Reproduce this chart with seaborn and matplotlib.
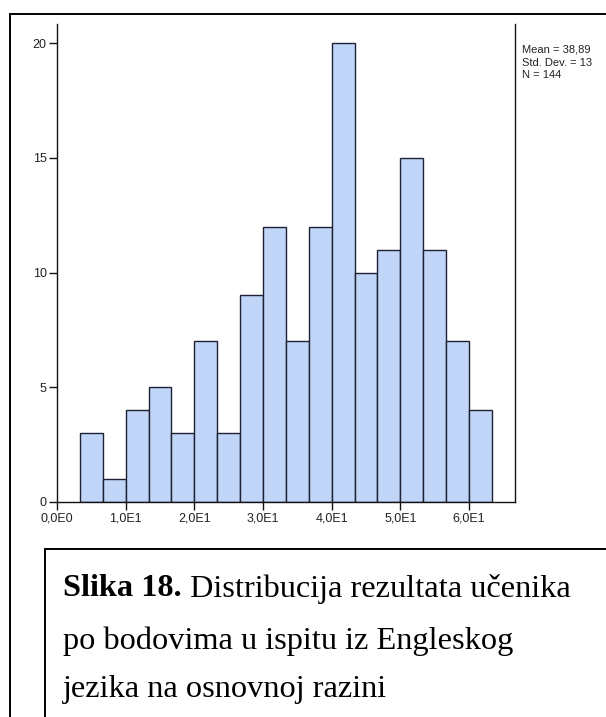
import numpy as np
import pandas as pd
import matplotlib
matplotlib.use("Agg")
import matplotlib.pyplot as plt
import seaborn as sns

# ---- data ----
bin_width = 10 / 3
bin_edges = [bin_width * k for k in range(1, 20)]
counts = [3, 1, 4, 5, 3, 7, 3, 9, 12, 7, 12, 20, 10, 11, 15, 11, 7, 4]
x_ticks = [0, 10, 20, 30, 40, 50, 60]
x_tick_labels = ["0,0E0", "1,0E1", "2,0E1", "3,0E1", "4,0E1", "5,0E1", "6,0E1"]
y_ticks = [0, 5, 10, 15, 20]
stats_lines = ["Mean = 38,89", "Std. Dev. = 13", "N = 144"]
caption_bold = "Slika 18."
caption_lines = [" Distribucija rezultata učenika",
                 "po bodovima u ispitu iz Engleskog",
                 "jezika na osnovnoj razini"]

centers = [(bin_edges[i] + bin_edges[i + 1]) / 2 for i in range(len(counts))]
df = pd.DataFrame({"score": centers, "count": counts})

sns.set_theme(style="white")
plt.rcParams["font.family"] = ["Liberation Sans", "DejaVu Sans"]

W, H = 606, 717
fig = plt.figure(figsize=(W / 100, H / 100), dpi=100)
fig.patch.set_facecolor("white")

# axes box in pixel coords
ax_l, ax_r, ax_t, ax_b = 57, 515, 24, 502
ax = fig.add_axes([ax_l / W, 1 - ax_b / H, (ax_r - ax_l) / W, (ax_b - ax_t) / H])

sns.histplot(data=df, x="score", weights="count", bins=bin_edges, ax=ax,
             color="#C0D5F7", edgecolor="#1c2233", linewidth=1.0, alpha=1.0)

ax.set_xlim(0, 66.7)
ax.set_ylim(0, 20.83)
ax.set_xticks(x_ticks)
ax.set_xticklabels(x_tick_labels, fontsize=9, color="#222222")
ax.set_yticks(y_ticks)
ax.set_yticklabels([str(v) for v in y_ticks], fontsize=9, color="#222222")
ax.set_xlabel("")
ax.set_ylabel("")
ax.tick_params(axis="both", direction="out", length=6, width=1.0, color="#111111",
               pad=1.5, bottom=True, left=True)
for side in ["left", "bottom", "right"]:
    ax.spines[side].set_visible(True)
    ax.spines[side].set_color("#111111")
    ax.spines[side].set_linewidth(1.0)
ax.spines["top"].set_visible(False)
ax.set_facecolor("white")
ax.grid(False)

# stats text
for i, line in enumerate(stats_lines):
    fig.text(522 / W, 1 - (50 + 12.5 * i) / H, line, fontsize=8, va="center",
             ha="left", color="#222222")

# outer frame (top + left lines)
fig.add_artist(plt.Line2D([10 / W, 1.0], [1 - 14 / H, 1 - 14 / H],
                          transform=fig.transFigure, color="black", lw=1.4))
fig.add_artist(plt.Line2D([10 / W, 10 / W], [1 - 14 / H, 0.0],
                          transform=fig.transFigure, color="black", lw=1.4))

# caption box (top + left lines)
fig.add_artist(plt.Line2D([45 / W, 1.0], [1 - 549 / H, 1 - 549 / H],
                          transform=fig.transFigure, color="black", lw=1.4))
fig.add_artist(plt.Line2D([45 / W, 45 / W], [1 - 549 / H, 0.0],
                          transform=fig.transFigure, color="black", lw=1.4))

# caption text
serif = ["Liberation Serif", "DejaVu Serif"]
cap_fs = 23.3
y0 = 1 - 589 / H
t = fig.text(63 / W, y0, caption_bold, fontsize=cap_fs, fontweight="bold",
             family=serif, va="center", ha="left", color="black")
fig.canvas.draw()
bb = t.get_window_extent(renderer=fig.canvas.get_renderer())
fig.text(bb.x1 / W, y0, caption_lines[0], fontsize=cap_fs, family=serif,
         va="center", ha="left", color="black")
fig.text(63 / W, 1 - 641 / H, caption_lines[1], fontsize=cap_fs, family=serif,
         va="center", ha="left", color="black")
fig.text(63 / W, 1 - 689 / H, caption_lines[2], fontsize=cap_fs, family=serif,
         va="center", ha="left", color="black")

fig.savefig("out.png", dpi=100, facecolor="white")
